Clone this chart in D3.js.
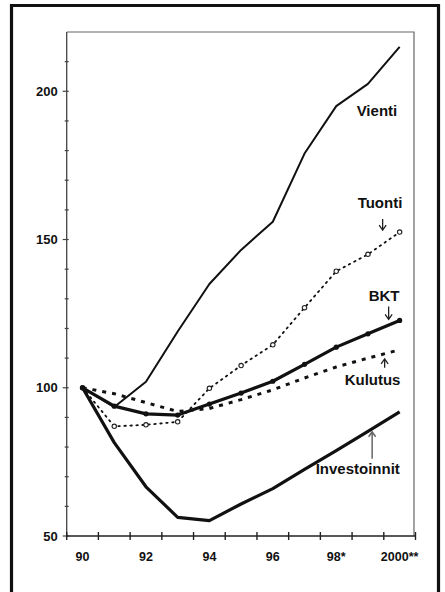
<!DOCTYPE html>
<html>
<head>
<meta charset="utf-8">
<script src="https://cdn.jsdelivr.net/npm/d3@7/dist/d3.min.js"></script>
<style>
  html, body { margin: 0; padding: 0; background: #fff; }
  svg { display: block; }
  text { font-family: "Liberation Sans", Arial, sans-serif; font-weight: bold; fill: #111; }
</style>
</head>
<body>
<svg id="chart" width="445" height="592"></svg>
<script>
// ---- data ----
const years = ["90", "91", "92", "93", "94", "95", "96", "97", "98", "99", "2000"];
const xTickLabels = ["90", "", "92", "", "94", "", "96", "", "98*", "", "2000**"];
const yTickValues = [50, 60, 70, 80, 90, 100, 110, 120, 130, 140, 150, 160, 170, 180, 190, 200, 210];
const yTickLabels = [50, 100, 150, 200];

const vienti       = [100, 93.5, 102, 119, 135, 146.5, 156, 179, 195, 202.5, 215];
const tuonti       = [100, 87, 87.5, 88.5, 99.8, 107.5, 114.5, 127, 139.3, 145, 152.5];
const bkt          = [100, 93.8, 91.2, 90.8, 94.5, 98.2, 102.2, 107.9, 113.7, 118.2, 122.7];
const kulutus      = [100, 98, 95, 92, 93, 96, 99.3, 103.3, 107, 110, 112.8];
const investoinnit = [100, 81.5, 66.6, 56.3, 55.2, 60.8, 66, 72.5, 78.8, 85.3, 91.9];

const seriesNames = ["Vienti", "Tuonti", "BKT", "Kulutus", "Investoinnit"];

// ---- layout ----
const svg = d3.select("#chart");
const pL = 66.7, pR = 415.5, pT = 32, pB = 536;

const x = d3.scaleBand().domain(years).range([pL, pR]).padding(0);
const xc = d => x(d) + x.bandwidth() / 2;
const y = d3.scaleLinear().domain([50, 220]).range([pB, pT]);

// outer frame
svg.append("path")
  .attr("d", `M11.5,592 L11.5,5.5 L438.5,5.5 L438.5,592`)
  .attr("fill", "none").attr("stroke", "#111").attr("stroke-width", 3.2);

// plot box (top & right)
svg.append("path")
  .attr("d", `M${pL},${pT} L${pR - 1.5},${pT} L${pR - 1.5},${pB}`)
  .attr("fill", "none").attr("stroke", "#666").attr("stroke-width", 1.2);

// y axis
const gy = svg.append("g");
gy.append("line").attr("x1", pL).attr("x2", pL).attr("y1", pT).attr("y2", pB)
  .attr("stroke", "#444").attr("stroke-width", 1.3);
gy.selectAll("line.tick").data(yTickValues).join("line")
  .attr("class", "tick")
  .attr("x1", d => yTickLabels.includes(d) ? pL - 4 : pL - 2)
  .attr("x2", pL + 2)
  .attr("y1", d => y(d)).attr("y2", d => y(d))
  .attr("stroke", "#444").attr("stroke-width", 1.2);
gy.selectAll("text").data(yTickLabels).join("text")
  .attr("x", pL - 9).attr("y", d => y(d) + 4.5)
  .attr("text-anchor", "end").attr("font-size", 13)
  .text(d => d);

// x axis
const gx = svg.append("g");
gx.append("line").attr("x1", pL).attr("x2", pR).attr("y1", pB).attr("y2", pB)
  .attr("stroke", "#222").attr("stroke-width", 1.6);
const boundaries = years.map(d => x(d)).concat([x.range()[1]]);
gx.selectAll("line.tick").data(boundaries).join("line")
  .attr("class", "tick")
  .attr("x1", d => d).attr("x2", d => d)
  .attr("y1", pB - 4).attr("y2", pB + 4)
  .attr("stroke", "#222").attr("stroke-width", 1.4);
gx.selectAll("text").data(years).join("text")
  .attr("x", d => xc(d)).attr("y", pB + 25)
  .attr("text-anchor", "middle").attr("font-size", 12.5)
  .text((d, i) => xTickLabels[i]);

// lines
const line = d3.line().x((d, i) => xc(years[i])).y(d => y(d));

function drawSeries(values, opts) {
  svg.append("path").datum(values)
    .attr("d", line)
    .attr("fill", "none")
    .attr("stroke", "#111")
    .attr("stroke-width", opts.width)
    .attr("stroke-dasharray", opts.dash || null)
    .attr("stroke-linecap", opts.cap || "butt")
    .attr("stroke-linejoin", "round");
}

drawSeries(kulutus, { width: 3, dash: "4,6" });
drawSeries(tuonti, { width: 1.8, dash: "1.5,4.5", cap: "round" });
drawSeries(investoinnit, { width: 3.2 });
drawSeries(vienti, { width: 2 });
drawSeries(bkt, { width: 3.2 });

// markers
svg.append("g").selectAll("circle").data(tuonti).join("circle")
  .attr("cx", (d, i) => xc(years[i])).attr("cy", d => y(d))
  .attr("r", 2.2).attr("fill", "#fff").attr("stroke", "#222").attr("stroke-width", 1.1);
svg.append("g").selectAll("circle").data(bkt).join("circle")
  .attr("cx", (d, i) => xc(years[i])).attr("cy", d => y(d))
  .attr("r", 2.6).attr("fill", "#111");

// labels & arrows
const last = years[years.length - 1];
const xl = xc(last);
function label(txt, xx, yy) {
  svg.append("text").attr("x", xx).attr("y", yy).attr("font-size", 15).text(txt);
}
function arrow(xx, y1, y2, color, w) {
  const dir = y2 > y1 ? 1 : -1;
  svg.append("path")
    .attr("d", `M${xx},${y1} L${xx},${y2} M${xx - 3.5},${y2 - dir * 5} L${xx},${y2} L${xx + 3.5},${y2 - dir * 5}`)
    .attr("fill", "none").attr("stroke", color).attr("stroke-width", w);
}

label(seriesNames[0], xl - 43, y(vienti[8]) + 10);
label(seriesNames[1], xl - 42, y(tuonti[10]) - 24);
arrow(xl - 17, y(tuonti[10]) - 13, y(tuonti[10]) - 2, "#222", 1.3);
label(seriesNames[2], xl - 31, y(bkt[10]) - 19);
arrow(xl - 11, y(bkt[10]) - 14, y(bkt[10]) - 1, "#222", 1.3);
label(seriesNames[3], xl - 55, y(kulutus[10]) + 35);
arrow(xl - 15, y(kulutus[10]) + 18, y(kulutus[10]) + 9, "#222", 1.3);
label(seriesNames[4], xl - 84, y(investoinnit[10]) + 62);
arrow(xl - 27.5, y(investoinnit[10]) + 47, y(investoinnit[10]) + 20, "#666", 1.5);
</script>
</body>
</html>
